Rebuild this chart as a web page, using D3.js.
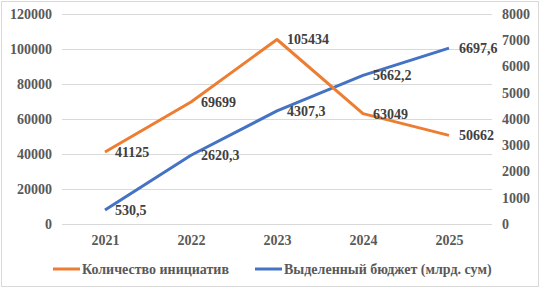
<!DOCTYPE html>
<html>
<head>
<meta charset="utf-8">
<script src="https://cdn.jsdelivr.net/npm/d3@7"></script>
<style>
  body { margin: 0; background: #fff; }
</style>
</head>
<body>
<script>
var years = ["2021", "2022", "2023", "2024", "2025"]
var initiatives = [41125, 69699, 105434, 63049, 50662]
var budget = [530.5, 2620.3, 4307.3, 5662.2, 6697.6]
var leftTicks = [0, 20000, 40000, 60000, 80000, 100000, 120000]
var rightTicks = [0, 1000, 2000, 3000, 4000, 5000, 6000, 7000, 8000]
var seriesNames = ["Количество инициатив", "Выделенный бюджет (млрд. сум)"]

var FONT = "'Liberation Serif', 'Times New Roman', serif"

var W = 541, H = 288
var margin = {top: 14, right: 49, bottom: 64, left: 62}
  , width = W - margin.left - margin.right
  , height = H - margin.top - margin.bottom

var svg = d3.select("body").append("svg")
    .attr("width", W)
    .attr("height", H)

// outer frame
svg.append("rect")
    .attr("x", 1.5).attr("y", 1.5)
    .attr("width", W - 4).attr("height", H - 3)
    .attr("fill", "#fff")
    .attr("stroke", "#d9d9d9")

var g = svg.append("g")
    .attr("transform", "translate(" + margin.left + "," + margin.top + ")")

var x = d3.scalePoint().domain(years).range([0, width]).padding(0.5)
var yL = d3.scaleLinear().domain([0, 120000]).range([height, 0])
var yR = d3.scaleLinear().domain([0, 8000]).range([height, 0])

function styleText(sel, size, color) {
  sel.style("font-family", FONT)
     .style("font-weight", "bold")
     .style("font-size", size)
     .attr("fill", color)
}

// gridlines
g.selectAll(".grid")
  .data(leftTicks)
  .enter().append("line")
    .attr("x1", 0).attr("x2", width)
    .attr("y1", function(d) { return Math.round(yL(d)) + 0.5 })
    .attr("y2", function(d) { return Math.round(yL(d)) + 0.5 })
    .attr("stroke", "#d9d9d9")

// left axis
var axL = g.append("g")
    .call(d3.axisLeft(yL).tickValues(leftTicks).tickSize(0).tickPadding(10).tickFormat(d3.format("d")))
axL.select(".domain").remove()
styleText(axL.selectAll("text"), "14px", "#595959")

// right axis
var axR = g.append("g")
    .attr("transform", "translate(" + width + ",0)")
    .call(d3.axisRight(yR).tickValues(rightTicks).tickSize(0).tickPadding(10).tickFormat(d3.format("d")))
axR.select(".domain").remove()
styleText(axR.selectAll("text"), "14px", "#595959")

// x axis
var axX = g.append("g")
    .attr("transform", "translate(0," + height + ")")
    .call(d3.axisBottom(x).tickSize(0).tickPadding(11))
axX.select(".domain").remove()
styleText(axX.selectAll("text"), "14px", "#595959")

var series = [
  {name: seriesNames[0], color: "#ED7D31", values: initiatives, y: yL, fmt: function(v) { return String(v) }},
  {name: seriesNames[1], color: "#4472C4", values: budget, y: yR, fmt: function(v) { return v.toFixed(1).replace(".", ",") }}
]

// blue first, orange drawn over it
series.slice().reverse().forEach(function(s) {
  var line = d3.line()
      .x(function(d, i) { return x(years[i]) })
      .y(function(d) { return s.y(d) })
  g.append("path")
      .datum(s.values)
      .attr("d", line)
      .attr("fill", "none")
      .attr("stroke", s.color)
      .attr("stroke-width", 3)
      .attr("stroke-linejoin", "round")
})

series.forEach(function(s) {
  var lbl = g.selectAll(".lbl")
    .data(s.values)
    .enter().append("text")
      .attr("x", function(d, i) { return x(years[i]) + 10 })
      .attr("y", function(d) { return s.y(d) })
      .attr("dy", "0.35em")
      .text(function(d) { return s.fmt(d) })
  styleText(lbl, "14px", "#404040")
})

// legend
var legend = svg.append("g").attr("transform", "translate(0,269)")
var lx = [53, 255]
series.forEach(function(s, i) {
  legend.append("line")
      .attr("x1", lx[i]).attr("x2", lx[i] + 27)
      .attr("y1", 0).attr("y2", 0)
      .attr("stroke", s.color)
      .attr("stroke-width", 3)
  var t = legend.append("text")
      .attr("x", lx[i] + 29)
      .attr("y", 0)
      .attr("dy", "0.35em")
      .text(s.name)
  styleText(t, "14px", "#595959")
})
</script>
</body>
</html>
